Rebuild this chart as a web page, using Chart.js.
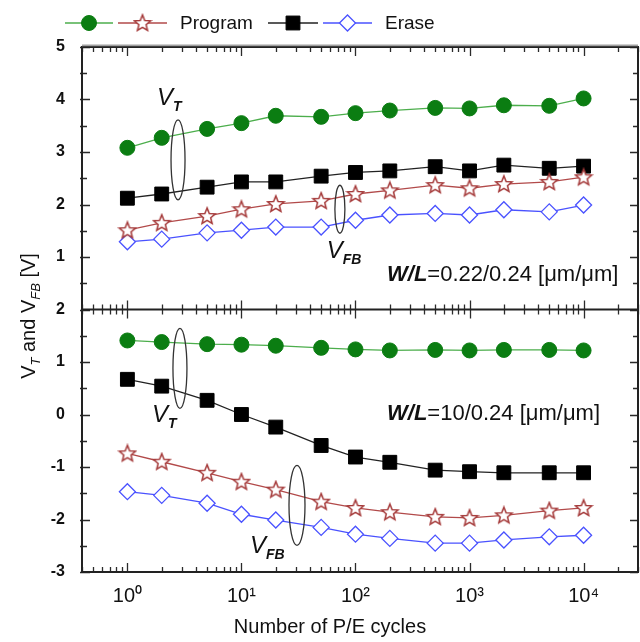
<!DOCTYPE html>
<html>
<head>
<meta charset="utf-8">
<script src="https://cdn.jsdelivr.net/npm/chart.js@4.4.0/dist/chart.umd.min.js"></script>
<style>
  html, body { margin: 0; background: #fff; }
  canvas { display: block; }
</style>
</head>
<body>
<canvas id="c" width="640" height="642"></canvas>
<script>
// P/E cycles (x)
const cycles = [1, 2, 5, 10, 20, 50, 100, 200, 500, 1000, 2000, 5000, 10000];

// upper panel, W/L = 0.22/0.24
const vtProgNarrow  = [3.08, 3.27, 3.44, 3.55, 3.69, 3.67, 3.74, 3.79, 3.84, 3.83, 3.89, 3.88, 4.02];
const vfbProgNarrow = [1.51, 1.65, 1.78, 1.91, 2.01, 2.07, 2.20, 2.27, 2.37, 2.31, 2.39, 2.43, 2.52];
const vtEraseNarrow = [2.12, 2.20, 2.33, 2.43, 2.43, 2.54, 2.61, 2.64, 2.72, 2.64, 2.75, 2.69, 2.73];
const vfbEraseNarrow= [1.29, 1.34, 1.46, 1.51, 1.57, 1.57, 1.70, 1.80, 1.83, 1.80, 1.90, 1.86, 1.99];

// lower panel, W/L = 10/0.24
const vtProgWide    = [1.41, 1.38, 1.34, 1.33, 1.31, 1.27, 1.24, 1.22, 1.23, 1.22, 1.23, 1.23, 1.22];
const vfbProgWide   = [-0.74, -0.90, -1.11, -1.28, -1.43, -1.66, -1.78, -1.86, -1.95, -1.97, -1.92, -1.83, -1.78];
const vtEraseWide   = [0.67, 0.54, 0.27, 0.00, -0.24, -0.59, -0.81, -0.91, -1.06, -1.09, -1.11, -1.11, -1.11];
const vfbEraseWide  = [-1.47, -1.54, -1.69, -1.90, -2.01, -2.15, -2.28, -2.36, -2.45, -2.45, -2.39, -2.33, -2.30];

// tick labels
const xTicks = [1, 10, 100, 1000, 10000];
const xTickLabels = ['10\u2070', '10\u00B9', '10\u00B2', '10\u00B3', '10\u2074'];
const yTopTicks = [1, 2, 3, 4, 5];
const yBotTicks = [-3, -2, -1, 0, 1, 2];

const FONT = "'Liberation Sans', Arial, sans-serif";

// five point outline star for V_FB program
function makeStar() {
  const c = document.createElement('canvas');
  c.width = 20; c.height = 20;
  const g = c.getContext('2d');
  g.beginPath();
  for (let i = 0; i < 10; i++) {
    const r = i % 2 ? 3.8 : 8.6;
    const a = -Math.PI / 2 + i * Math.PI / 5;
    g.lineTo(10 + r * Math.cos(a), 10.5 + r * Math.sin(a));
  }
  g.closePath();
  g.fillStyle = '#fff';
  g.fill();
  g.strokeStyle = '#a53a3a';
  g.lineWidth = 1.5;
  g.stroke();
  return c;
}
const star = makeStar();

const styles = {
  vtProg:  { borderColor: '#4cae4c', pointBackgroundColor: '#0b7d12', pointBorderColor: '#0b7d12', pointStyle: 'circle', pointRadius: 7.5 },
  vfbProg: { borderColor: '#b24a4a', pointStyle: star, pointRadius: 9 },
  vtErase: { borderColor: '#222', pointBackgroundColor: '#000', pointBorderColor: '#000', pointStyle: 'rect', pointRadius: 9.8 },
  vfbErase:{ borderColor: '#4a52ff', pointBackgroundColor: '#fff', pointBorderColor: '#4a52ff', pointStyle: 'rectRot', pointRadius: 8, pointBorderWidth: 1.3 }
};

function ds(label, values, style, axis) {
  return Object.assign({
    label: label,
    data: cycles.map((c, i) => ({ x: c, y: values[i] })),
    yAxisID: axis,
    borderWidth: 1.3,
    pointBorderWidth: 1,
    pointHoverRadius: 0,
    tension: 0,
    fill: false
  }, style);
}

const datasets = [
  ds('V_T program (W/L=0.22/0.24)', vtProgNarrow, styles.vtProg, 'yTop'),
  ds('V_FB program (W/L=0.22/0.24)', vfbProgNarrow, styles.vfbProg, 'yTop'),
  ds('V_T erase (W/L=0.22/0.24)', vtEraseNarrow, styles.vtErase, 'yTop'),
  ds('V_FB erase (W/L=0.22/0.24)', vfbEraseNarrow, styles.vfbErase, 'yTop'),
  ds('V_T program (W/L=10/0.24)', vtProgWide, styles.vtProg, 'yBot'),
  ds('V_FB program (W/L=10/0.24)', vfbProgWide, styles.vfbProg, 'yBot'),
  ds('V_T erase (W/L=10/0.24)', vtEraseWide, styles.vtErase, 'yBot'),
  ds('V_FB erase (W/L=10/0.24)', vfbEraseWide, styles.vfbErase, 'yBot')
];

// ellipses and labels, anchored in data units of each panel
const ellipses = [
  { axis: 'yTop', x: 2.78, y: 2.85, rx: 7, ry: 40 },
  { axis: 'yTop', x: 73, y: 1.91, rx: 5, ry: 24 },
  { axis: 'yBot', x: 2.89, y: 0.88, rx: 7, ry: 40 },
  { axis: 'yBot', x: 30.7, y: -1.73, rx: 8, ry: 40 }
];
const vLabels = [
  { axis: 'yTop', x: 1.82, y: 3.9, sub: 'T' },
  { axis: 'yTop', x: 56, y: 0.98, sub: 'FB' },
  { axis: 'yBot', x: 1.64, y: -0.15, sub: 'T' },
  { axis: 'yBot', x: 11.9, y: -2.64, sub: 'FB' }
];
const wlLabels = [
  { axis: 'yTop', x: 189, y: 0.54, text: '=0.22/0.24 [\u03BCm/\u03BCm]' },
  { axis: 'yBot', x: 189, y: -0.11, text: '=10/0.24 [\u03BCm/\u03BCm]' }
];

function drawRuns(ctx, x, y, runs) {
  for (const r of runs) {
    ctx.font = r.font;
    ctx.fillText(r.t, x, y + (r.dy || 0));
    x += ctx.measureText(r.t).width + (r.gap || 0);
  }
  return x;
}
function runsWidth(ctx, runs) {
  let w = 0;
  for (const r of runs) { ctx.font = r.font; w += ctx.measureText(r.t).width + (r.gap || 0); }
  return w;
}

const framePlugin = {
  id: 'frame',
  beforeDatasetsDraw(chart) {
    const ctx = chart.ctx;
    const ca = chart.chartArea;
    const xs = chart.scales.x, yT = chart.scales.yTop, yB = chart.scales.yBot;
    const mid = yT.bottom;
    ctx.save();
    ctx.strokeStyle = '#2b2b2b';
    ctx.lineWidth = 1.3;
    ctx.beginPath();
    // x ticks (log, minor at 2..9)
    for (let k = -1; k <= 4; k++) {
      for (let m = 1; m <= 9; m++) {
        const v = m * Math.pow(10, k);
        if (v < xs.min || v > xs.max) continue;
        const px = Math.round(xs.getPixelForValue(v)) + 0.5;
        const len = m === 1 ? 9 : 5;
        ctx.moveTo(px, ca.top); ctx.lineTo(px, ca.top + len);
        ctx.moveTo(px, mid - len); ctx.lineTo(px, mid + len);
        ctx.moveTo(px, ca.bottom - len); ctx.lineTo(px, ca.bottom);
      }
    }
    // y ticks, every 0.5 V
    for (const sc of [yT, yB]) {
      for (let v = sc.min; v <= sc.max + 1e-9; v += 0.5) {
        const py = Math.round(sc.getPixelForValue(v)) + 0.5;
        const len = Number.isInteger(v) ? 8 : 5;
        ctx.moveTo(ca.left - 2, py); ctx.lineTo(ca.left + len, py);
        ctx.moveTo(ca.right - len, py); ctx.lineTo(ca.right, py);
      }
    }
    ctx.stroke();
    // frame
    ctx.lineWidth = 2;
    ctx.strokeStyle = '#222';
    ctx.strokeRect(ca.left, ca.top, ca.right - ca.left, ca.bottom - ca.top);
    ctx.beginPath();
    ctx.moveTo(ca.left, mid); ctx.lineTo(ca.right, mid);
    ctx.stroke();
    ctx.strokeStyle = 'rgba(120,120,120,0.7)';
    ctx.beginPath();
    ctx.moveTo(ca.left, ca.top - 1.5); ctx.lineTo(ca.right, ca.top - 1.5);
    ctx.stroke();
    ctx.restore();
  },
  afterDatasetsDraw(chart) {
    const ctx = chart.ctx;
    const xs = chart.scales.x;
    ctx.save();
    ctx.fillStyle = '#111';
    ctx.strokeStyle = '#333';
    ctx.lineWidth = 1.3;
    for (const e of ellipses) {
      const sc = chart.scales[e.axis];
      ctx.beginPath();
      ctx.ellipse(xs.getPixelForValue(e.x), sc.getPixelForValue(e.y), e.rx, e.ry, 0, 0, Math.PI * 2);
      ctx.stroke();
    }
    ctx.textBaseline = 'alphabetic';
    for (const l of vLabels) {
      const sc = chart.scales[l.axis];
      drawRuns(ctx, xs.getPixelForValue(l.x), sc.getPixelForValue(l.y), [
        { t: 'V', font: 'italic 24px ' + FONT },
        { t: l.sub, font: 'italic bold 14px ' + FONT, dy: 6 }
      ]);
    }
    for (const l of wlLabels) {
      const sc = chart.scales[l.axis];
      drawRuns(ctx, xs.getPixelForValue(l.x), sc.getPixelForValue(l.y), [
        { t: 'W/L', font: 'italic bold 22px ' + FONT },
        { t: l.text, font: '22px ' + FONT }
      ]);
    }
    ctx.restore();
  },
  afterDraw(chart) {
    const ctx = chart.ctx;
    ctx.save();
    ctx.fillStyle = '#111';
    // x title
    ctx.font = '20px ' + FONT;
    ctx.textAlign = 'center';
    ctx.textBaseline = 'alphabetic';
    ctx.fillText('Number of P/E cycles', 330, 633);
    // y title with subscripts
    ctx.textAlign = 'left';
    const runs = [
      { t: 'V', font: '20px ' + FONT },
      { t: 'T', font: 'italic 13px ' + FONT, dy: 5 },
      { t: ' and V', font: '20px ' + FONT },
      { t: 'FB', font: 'italic 13px ' + FONT, dy: 5 },
      { t: ' [V]', font: '20px ' + FONT }
    ];
    ctx.translate(35, 316);
    ctx.rotate(-Math.PI / 2);
    drawRuns(ctx, -runsWidth(ctx, runs) / 2, 0, runs);
    ctx.restore();

    // legend: line + marker per dataset, labels for Program and Erase
    const legend = [
      { ds: 0, x1: 65, x2: 113, text: '' },
      { ds: 1, x1: 118, x2: 167, text: 'Program' },
      { ds: 2, x1: 268, x2: 318, text: '' },
      { ds: 3, x1: 323, x2: 372, text: 'Erase' }
    ];
    const ly = 23;
    ctx.save();
    for (const it of legend) {
      const d = chart.data.datasets[it.ds];
      ctx.strokeStyle = d.borderColor;
      ctx.lineWidth = 1.6;
      ctx.beginPath();
      ctx.moveTo(it.x1, ly); ctx.lineTo(it.x2, ly);
      ctx.stroke();
      const cx = (it.x1 + it.x2) / 2;
      ctx.fillStyle = d.pointBackgroundColor || '#fff';
      ctx.strokeStyle = d.pointBorderColor || d.borderColor;
      ctx.lineWidth = d.pointBorderWidth || 1;
      Chart.helpers.drawPoint(ctx, { pointStyle: d.pointStyle, radius: d.pointRadius, rotation: 0, borderWidth: d.pointBorderWidth || 1 }, cx, ly);
      if (it.text) {
        ctx.fillStyle = '#111';
        ctx.font = '19px ' + FONT;
        ctx.textBaseline = 'middle';
        ctx.fillText(it.text, it.x2 + 13, ly + 1);
      }
    }
    ctx.restore();
  }
};

const yTickFont = { family: FONT, size: 16, weight: 'bold' };

new Chart(document.getElementById('c'), {
  type: 'line',
  data: { datasets: datasets },
  options: {
    responsive: false,
    animation: false,
    layout: { autoPadding: false, padding: { top: 47, right: 2, left: 0, bottom: 0 } },
    plugins: { legend: { display: false }, tooltip: { enabled: false } },
    scales: {
      x: {
        type: 'logarithmic',
        min: 0.4,
        max: 30000,
        afterBuildTicks: s => { s.ticks = xTicks.map(v => ({ value: v })); },
        afterFit: s => { s.height = 70; s.paddingLeft = 0; s.paddingRight = 0; },
        ticks: {
          autoSkip: false,
          maxRotation: 0,
          padding: 4,
          color: '#111',
          font: { family: FONT, size: 20 },
          callback: v => xTickLabels[xTicks.indexOf(v)]
        },
        grid: { display: false },
        border: { display: false }
      },
      yBot: {
        type: 'linear',
        position: 'left',
        stack: 'panels',
        stackWeight: 1,
        min: -3,
        max: 2,
        afterBuildTicks: s => { s.ticks = yBotTicks.map(v => ({ value: v })); },
        afterFit: s => { s.width = 82; },
        ticks: { padding: 9, color: '#111', font: yTickFont },
        grid: { display: false },
        border: { display: false }
      },
      yTop: {
        type: 'linear',
        position: 'left',
        stack: 'panels',
        stackWeight: 1,
        min: 0,
        max: 5,
        afterBuildTicks: s => { s.ticks = yTopTicks.map(v => ({ value: v })); },
        afterFit: s => { s.width = 82; },
        ticks: { padding: 9, color: '#111', font: yTickFont },
        grid: { display: false },
        border: { display: false }
      }
    }
  },
  plugins: [framePlugin]
});
</script>
</body>
</html>
